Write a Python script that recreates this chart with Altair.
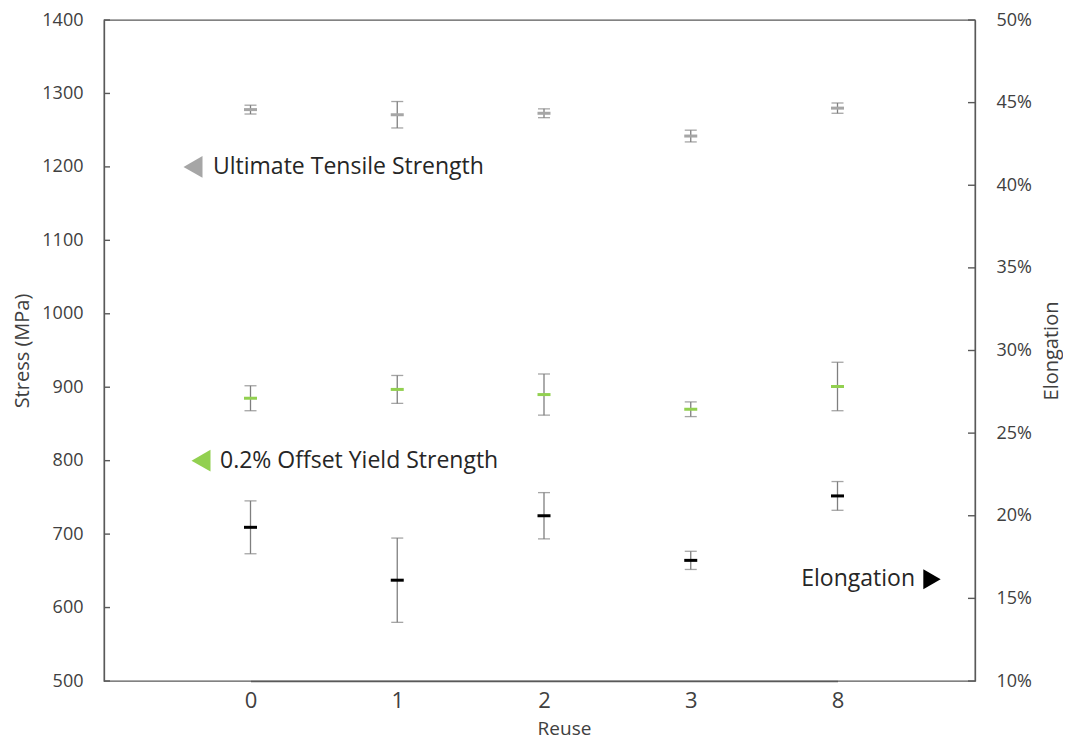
import altair as alt
import pandas as pd

# ---- data ----
reuse = ["0", "1", "2", "3", "8"]
uts_mean = [1278, 1271, 1273, 1242, 1280]
uts_err = [6, 18, 6, 8, 7]
ys_mean = [885, 897, 890, 870, 901]
ys_err = [17, 19, 28, 10, 33]
elong_mean = [19.3, 16.1, 20.0, 17.3, 21.2]   # percent
elong_err = [1.6, 2.55, 1.4, 0.55, 0.87]

stress_ticks = [500, 600, 700, 800, 900, 1000, 1100, 1200, 1300, 1400]
elong_ticks = [10, 15, 20, 25, 30, 35, 40, 45, 50]

series_names = ["Ultimate Tensile Strength", "0.2% Offset Yield Strength"]
series_colors = ["#a6a6a6", "#92d050"]

FONT = "Open Sans"
AX = "#595959"
TXT = "#404040"
BAR = "#7f7f7f"

W, H = 871, 661

stress_rows = []
for name, means, errs in [(series_names[0], uts_mean, uts_err),
                          (series_names[1], ys_mean, ys_err)]:
    for r, m, e in zip(reuse, means, errs):
        stress_rows.append({"series": name, "reuse": r, "mean": m,
                            "lo": m - e, "hi": m + e})
stress_df = pd.DataFrame(stress_rows)

elong_df = pd.DataFrame({
    "reuse": reuse,
    "mean": elong_mean,
    "lo": [m - e for m, e in zip(elong_mean, elong_err)],
    "hi": [m + e for m, e in zip(elong_mean, elong_err)],
})

xscale = alt.Scale(type="point", domain=reuse, range=[146.5, 733.5], padding=0)
x_axis = alt.Axis(title="Reuse", labelAngle=0, ticks=False, tickSize=0, grid=False,
                  domainColor=AX, domainWidth=1.3, labelFont=FONT, labelFontSize=22,
                  labelColor=TXT, labelPadding=9, titleFont=FONT, titleFontSize=19,
                  titleFontWeight="normal", titleColor=TXT, titleX=460, titleY=53,
                  titleBaseline="alphabetic")
X = alt.X("reuse:O", scale=xscale, axis=x_axis)

s_scale = alt.Scale(domain=[500, 1400], nice=False, zero=False)
e_scale = alt.Scale(domain=[10, 50], nice=False, zero=False)

s_axis = alt.Axis(title="Stress (MPa)", values=stress_ticks, format="d", ticks=False,
                  tickSize=0, grid=False, domainColor=AX, domainWidth=1.3, labelFont=FONT,
                  labelFontSize=18, labelColor=TXT, labelPadding=21, titleFont=FONT,
                  titleFontSize=20, titleFontWeight="normal", titleColor=TXT,
                  titleAngle=270, titleX=-82, titleY=H / 2, titleAlign="center",
                  titleBaseline="middle")
e_axis = alt.Axis(title="Elongation", orient="right", values=elong_ticks, ticks=False,
                  tickSize=0, grid=False, domainColor=AX, domainWidth=1.3,
                  labelFont=FONT, labelFontSize=18, labelColor=TXT, labelPadding=21,
                  labelExpr="datum.value + '%'", titleFont=FONT, titleFontSize=20,
                  titleFontWeight="normal", titleColor=TXT, titleAngle=270,
                  titleX=76, titleY=H / 2, titleAlign="center", titleBaseline="middle")


def SY(field):
    return alt.Y(field, scale=s_scale, axis=s_axis)


def EY(field):
    return alt.Y(field, scale=e_scale, axis=e_axis)


color = alt.Color("series:N", scale=alt.Scale(domain=series_names, range=series_colors),
                  legend=None)

# ---- stress group (left axis) ----
sbase = alt.Chart(stress_df)
s_rule = sbase.mark_rule(color=BAR, strokeWidth=1.3).encode(
    x=X, y=SY("lo:Q"), y2="hi:Q")
s_cap_lo = sbase.mark_tick(color=BAR, size=12, thickness=1.3).encode(x=X, y=SY("lo:Q"))
s_cap_hi = sbase.mark_tick(color=BAR, size=12, thickness=1.3).encode(x=X, y=SY("hi:Q"))
s_mid = sbase.mark_tick(size=13, thickness=3, opacity=1).encode(
    x=X, y=SY("mean:Q"), color=color)

s_inner_ticks = alt.Chart(pd.DataFrame({"v": stress_ticks})).mark_rule(
    color=AX, strokeWidth=1.4).encode(y=SY("v:Q"), x=alt.value(0), x2=alt.value(6))

one = pd.DataFrame({"a": [0]})


def s_datum(v):
    return alt.YDatum(v, scale=s_scale, axis=s_axis)


def e_datum(v):
    return alt.YDatum(v, scale=e_scale, axis=e_axis)


uts_tri = alt.Chart(one).mark_point(shape="triangle-left", filled=True, size=480,
                                    color=series_colors[0], opacity=1).encode(
    x=alt.value(89), y=s_datum(1200))
uts_txt = alt.Chart(one).mark_text(text=series_names[0], align="left", baseline="middle",
                                   font=FONT, fontSize=23, color="#262626").encode(
    x=alt.value(109), y=s_datum(1200))
ys_tri = alt.Chart(one).mark_point(shape="triangle-left", filled=True, size=480,
                                   color=series_colors[1], opacity=1).encode(
    x=alt.value(97), y=s_datum(800))
ys_txt = alt.Chart(one).mark_text(text=series_names[1], align="left", baseline="middle",
                                  font=FONT, fontSize=23, color="#262626").encode(
    x=alt.value(116), y=s_datum(800))

stress_group = alt.layer(s_rule, s_cap_lo, s_cap_hi, s_mid, s_inner_ticks,
                         uts_tri, uts_txt, ys_tri, ys_txt)

# ---- elongation group (right axis) ----
ebase = alt.Chart(elong_df)
e_rule = ebase.mark_rule(color=BAR, strokeWidth=1.3).encode(
    x=X, y=EY("lo:Q"), y2="hi:Q")
e_cap_lo = ebase.mark_tick(color=BAR, size=12, thickness=1.3).encode(x=X, y=EY("lo:Q"))
e_cap_hi = ebase.mark_tick(color=BAR, size=12, thickness=1.3).encode(x=X, y=EY("hi:Q"))
e_mid = ebase.mark_tick(size=13, thickness=3, color="#000000", opacity=1).encode(
    x=X, y=EY("mean:Q"))
e_inner_ticks = alt.Chart(pd.DataFrame({"v": elong_ticks})).mark_rule(
    color=AX, strokeWidth=1.4).encode(y=EY("v:Q"), x=alt.value(W - 7), x2=alt.value(W))
el_txt = alt.Chart(one).mark_text(text="Elongation", align="right", baseline="middle",
                                  font=FONT, fontSize=23, color="#262626").encode(
    x=alt.value(811), y=e_datum(16.15))
el_tri = alt.Chart(one).mark_point(shape="triangle-right", filled=True, size=400,
                                   color="#000000", opacity=1).encode(
    x=alt.value(828), y=e_datum(16.15))

elong_group = alt.layer(e_rule, e_cap_lo, e_cap_hi, e_mid, e_inner_ticks, el_txt, el_tri)

chart = alt.layer(stress_group, elong_group).resolve_scale(y="independent").properties(
    width=W, height=H,
    autosize=alt.AutoSizeParams(type="none"),
    padding={"left": 96, "top": 12, "right": 88, "bottom": 60},
    background="white",
).configure_view(stroke=AX, strokeWidth=1.3)

chart.save("out.html", embed_options={"renderer": "svg", "actions": False})
